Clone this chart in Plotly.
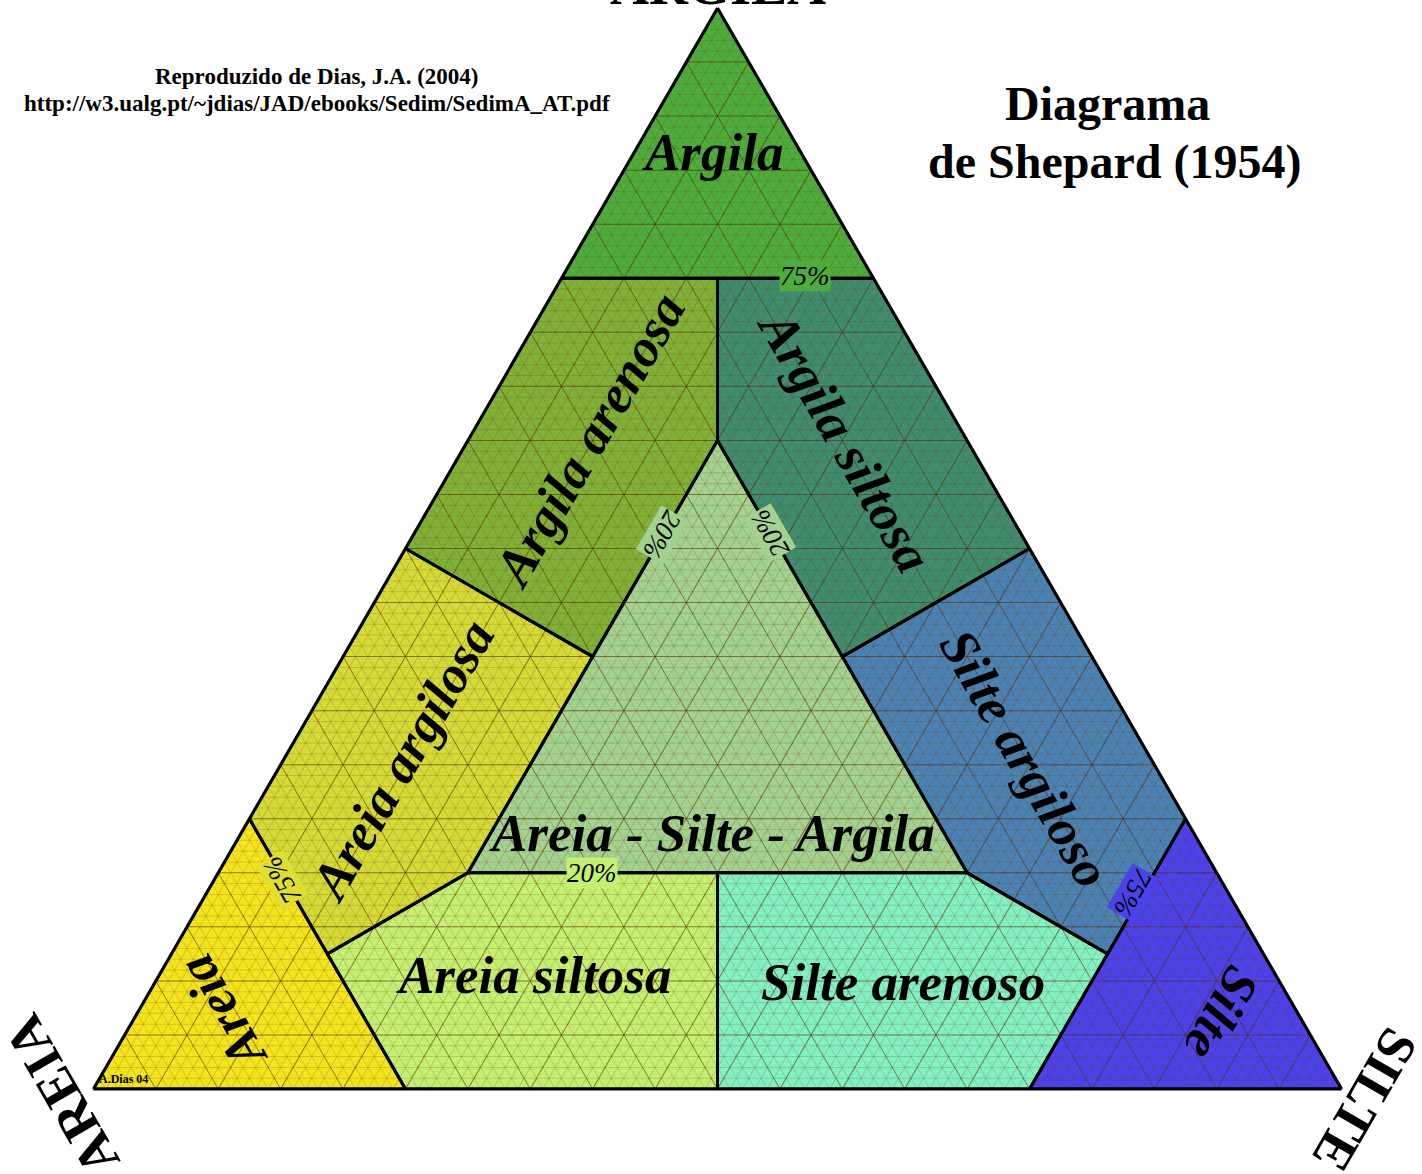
import plotly.graph_objects as go

# Shepard (1954) classes, vertices as (argila, areia, silte) percentages
region_names = ["Argila", "Argila arenosa", "Argila siltosa", "Areia argilosa",
                "Areia", "Areia siltosa", "Silte arenoso", "Silte argiloso",
                "Silte", "Areia - Silte - Argila"]
region_clay = [
    [100, 75, 75],
    [75, 75, 60, 40, 50],
    [75, 75, 50, 40, 60],
    [50, 40, 20, 12.5, 25],
    [25, 12.5, 0, 0],
    [12.5, 20, 20, 0, 0],
    [20, 20, 12.5, 0, 0],
    [40, 50, 25, 12.5, 20],
    [12.5, 25, 0, 0],
    [60, 20, 20],
]
region_sand = [
    [0, 25, 0],
    [25, 12.5, 20, 40, 50],
    [12.5, 0, 0, 20, 20],
    [50, 40, 60, 75, 75],
    [75, 75, 75, 100],
    [75, 60, 40, 50, 75],
    [40, 20, 12.5, 25, 50],
    [20, 0, 0, 12.5, 20],
    [12.5, 0, 0, 25],
    [20, 60, 20],
]
region_silt = [
    [0, 0, 25],
    [0, 12.5, 20, 20, 0],
    [12.5, 25, 50, 40, 20],
    [0, 20, 20, 12.5, 0],
    [0, 12.5, 25, 0],
    [12.5, 20, 40, 50, 25],
    [40, 60, 75, 75, 50],
    [40, 50, 75, 75, 60],
    [75, 75, 100, 75],
    [20, 20, 60],
]
region_colors = ["#4dac3c", "#80b038", "#3f8c6e", "#d4da38", "#f2e41f",
                 "#c5ef72", "#82f0c3", "#4a82b3", "#4b42ea", "#a2d190"]

W, H = 1422, 1174


def px(x, y):
    return x / W, 1 - y / H


fig = go.Figure()

for name, a, b, c, col in zip(region_names, region_clay, region_sand, region_silt, region_colors):
    fig.add_trace(go.Scatterternary(
        a=a + a[:1], b=b + b[:1], c=c + c[:1], mode="lines", fill="toself",
        fillcolor=col, line=dict(width=0, color=col), name=name,
        hoverinfo="name", subplot="ternary"))

# empty trace so the fine grid overlay gets drawn
fig.add_trace(go.Scatterternary(a=[], b=[], c=[], mode="lines", hoverinfo="skip",
                                subplot="ternary2"))

for name, a, b, c in zip(region_names, region_clay, region_sand, region_silt):
    fig.add_trace(go.Scatterternary(
        a=a + a[:1], b=b + b[:1], c=c + c[:1], mode="lines",
        line=dict(width=3, color="black"), hoverinfo="skip", subplot="ternary3"))

x0, y0 = px(92, 1089)
x1, y1 = px(1343, 8)
dom = dict(x=[x0, x1], y=[y0, y1])


def tax(dtick, gcol, show_line):
    return dict(title=dict(text=""), showticklabels=False, ticks="", dtick=dtick,
                showgrid=True, gridcolor=gcol, gridwidth=1, linecolor="black",
                linewidth=3, showline=show_line, layer="below traces", min=0)


fine = "rgba(110,60,0,0.2)"
major = "rgba(80,40,0,0.45)"
clear = "rgba(0,0,0,0)"
fig.update_layout(
    width=W, height=H, margin=dict(l=0, r=0, t=0, b=0),
    paper_bgcolor="white", showlegend=False,
    ternary=dict(domain=dom, sum=100, bgcolor="white",
                 aaxis=tax(5, clear, False), baxis=tax(5, clear, False),
                 caxis=tax(5, clear, False)),
    ternary2=dict(domain=dom, sum=100, bgcolor=clear,
                  aaxis=tax(1, fine, False), baxis=tax(1, fine, False),
                  caxis=tax(1, fine, False)),
    ternary3=dict(domain=dom, sum=100, bgcolor=clear,
                  aaxis=tax(5, major, True), baxis=tax(5, major, True),
                  caxis=tax(5, major, True)),
)

serif = "Liberation Serif"

# class labels: text, pixel x, pixel y, angle
label_text = ["Argila", "Argila arenosa", "Argila siltosa", "Areia argilosa",
              "Silte argiloso", "Areia - Silte - Argila", "Areia siltosa",
              "Silte arenoso", "Areia", "Silte"]
label_x = [712, 589, 845, 402, 1025, 712, 533, 903, 222, 1222]
label_y = [152, 440, 440, 760, 758, 833, 975, 982, 1013, 1013]
label_angle = [0, -60, 60, -60, 60, 0, 0, 0, -120, 120]

for t, x, y, ang in zip(label_text, label_x, label_y, label_angle):
    xx, yy = px(x, y)
    fig.add_annotation(x=xx, y=yy, xref="paper", yref="paper", text=t, showarrow=False,
                       textangle=ang, xanchor="center", yanchor="middle",
                       font=dict(family=serif, size=53, color="black",
                                 weight="bold", style="italic"))

# boundary percentages
pct_text = ["75%", "20%", "20%", "20%", "75%", "75%"]
pct_x = [805, 662, 770, 592, 282, 1133]
pct_y = [276, 535, 533, 873, 880, 893]
pct_angle = [0, 120, -120, 0, -120, 120]
pct_bg = ["#4dac3c", "#a2d190", "#a2d190", "#c5ef72", "#e0de30", "#4b42ea"]

for t, x, y, ang, bg in zip(pct_text, pct_x, pct_y, pct_angle, pct_bg):
    xx, yy = px(x, y)
    fig.add_annotation(x=xx, y=yy, xref="paper", yref="paper", text=t, showarrow=False,
                       textangle=ang, xanchor="center", yanchor="middle",
                       bgcolor=bg, borderpad=0,
                       font=dict(family=serif, size=27, color="black", style="italic"))

# corner titles (ARGILA mostly runs off the top edge, as in the original)
corner_text = ["ARGILA", "AREIA", "SILTE"]
corner_x = [718, 62, 1365]
corner_y = [-14, 1095, 1100]
corner_angle = [0, -120, 120]
for t, x, y, ang in zip(corner_text, corner_x, corner_y, corner_angle):
    xx, yy = px(x, y)
    fig.add_annotation(x=xx, y=yy, xref="paper", yref="paper", text=t, showarrow=False,
                       textangle=ang, xanchor="center", yanchor="middle",
                       font=dict(family=serif, size=54, color="black", weight="bold"))

# titles and credits
for t, x, y, s in [("Diagrama", 1107, 103, 48),
                   ("de Shepard (1954)", 1114, 162, 48),
                   ("Reproduzido de Dias, J.A. (2004)", 317, 76, 23),
                   ("http://w3.ualg.pt/~jdias/JAD/ebooks/Sedim/SedimA_AT.pdf", 317, 103, 23)]:
    xx, yy = px(x, y)
    fig.add_annotation(x=xx, y=yy, xref="paper", yref="paper", text=t, showarrow=False,
                       xanchor="center", yanchor="middle",
                       font=dict(family=serif, size=s, color="black", weight="bold"))

xx, yy = px(97, 1079)
fig.add_annotation(x=xx, y=yy, xref="paper", yref="paper", text="A.Dias 04", showarrow=False,
                   xanchor="left", yanchor="middle",
                   font=dict(family=serif, size=12, color="black", weight="bold"))

fig.write_html("out.html", config={"displayModeBar": False},
               post_script="document.body.style.margin='0px';")
